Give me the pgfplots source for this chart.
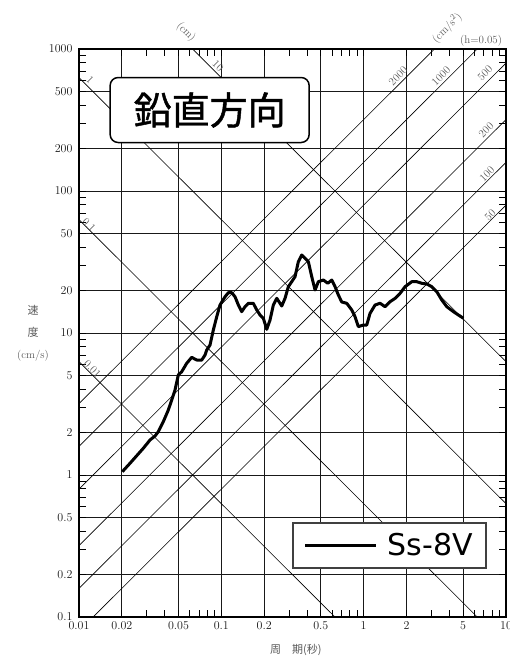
\documentclass[border=0pt]{standalone}
\usepackage{fontspec}
\usepackage{pgfplots}
\pgfplotsset{compat=1.18}
\newfontfamily\cjk{Noto Sans CJK JP}
\newfontfamily\cjkb{Noto Sans CJK JP}[FakeBold=1.2]
\newfontfamily\legfont{DejaVu Sans}
\definecolor{annot}{gray}{0.35}
\begin{document}
\begin{tikzpicture}
\begin{loglogaxis}[
  scale only axis, width=427pt, height=568pt,
  xmin=0.01, xmax=10, ymin=0.1, ymax=1000,
  xtick={0.01,0.02,0.05,0.1,0.2,0.5,1,2,5,10},
  xticklabels={0.01,0.02,0.05,0.1,0.2,0.5,1,2,5,10},
  ytick={0.1,0.2,0.5,1,2,5,10,20,50,100,200,500,1000},
  yticklabels={0.1,0.2,0.5,1,2,5,10,20,50,100,200,500,1000},
  minor xtick={0.03,0.04,0.06,0.07,0.08,0.09,0.3,0.4,0.6,0.7,0.8,0.9,3,4,6,7,8,9},
  minor ytick={0.3,0.4,0.6,0.7,0.8,0.9,3,4,6,7,8,9,30,40,60,70,80,90,300,400,600,700,800,900},
  tick align=inside, major tick length=7pt, minor tick length=7pt,
  tick style={black, line width=0.9pt},
  grid=major, major grid style={black!90, line width=0.9pt},
  axis line style={line width=1.4pt},
  clip mode=individual,
  tick label style={font=\fontsize{12}{14}\selectfont, text=black!90},
  yticklabel style={xshift=-3pt},
  xticklabel style={yshift=-1pt},
  ylabel={{\cjk 速}\\{\cjk 度}\\(cm/s)},
  ylabel style={at={(axis description cs:-0.1077,0.5)}, anchor=center, rotate=-90, align=center, font=\fontsize{11}{22}\selectfont, text=annot},
  xlabel={{\cjk 周　期(秒)}},
  xlabel style={at={(axis description cs:0.508,0)}, anchor=center, yshift=-33pt, font=\fontsize{11}{13}\selectfont, text=annot},
  legend style={at={(0.9548,0.084)}, anchor=south east, draw=black!75, line width=1.8pt, fill=white,
    inner xsep=0pt, inner ysep=11pt, font=\legfont\fontsize{30}{30}\selectfont, nodes={inner sep=0pt}},
  legend image code/.code={\path[draw=none, fill=none] (0pt,-2pt) rectangle (95pt,2pt);
    \draw[line width=2.6pt, black] (12.6pt,0pt) -- (83.3pt,0pt);},
]
% displacement lines (cm)
\addplot[black, line width=0.6pt, forget plot] coordinates {(0.01,6283.2)(10,6.2832)};
\addplot[black, line width=0.6pt, forget plot] coordinates {(0.01,628.32)(10,0.62832)};
\addplot[black, line width=0.6pt, forget plot] coordinates {(0.01,62.832)(10,0.062832)};
\addplot[black, line width=0.6pt, forget plot] coordinates {(0.01,6.2832)(10,0.0062832)};
% acceleration lines (cm/s^2)
\addplot[black, line width=0.6pt, forget plot] coordinates {(0.01,3.1831)(10,3183.1)};
\addplot[black, line width=0.6pt, forget plot] coordinates {(0.01,1.5915)(10,1591.5)};
\addplot[black, line width=0.6pt, forget plot] coordinates {(0.01,0.79577)(10,795.77)};
\addplot[black, line width=0.6pt, forget plot] coordinates {(0.01,0.31831)(10,318.31)};
\addplot[black, line width=0.6pt, forget plot] coordinates {(0.01,0.15915)(10,159.15)};
\addplot[black, line width=0.6pt, forget plot] coordinates {(0.01,0.079577)(10,79.577)};

\addplot[black, line width=3pt, line join=round] coordinates {
(0.02015,1.055)(0.02282,1.209)(0.02830,1.542)(0.03155,1.764)(0.0342,1.882)
(0.03608,2.018)(0.03912,2.374)(0.04242,2.87)(0.04481,3.375)(0.04727,3.97)
(0.04986,5.06)(0.05268,5.34)(0.05713,6.12)(0.06194,6.74)(0.06716,6.45)
(0.07284,6.45)(0.07683,7.0)(0.07896,7.59)(0.08329,8.23)(0.08786,10.5)
(0.09283,13.02)(0.0979,15.75)(0.1062,18.01)(0.112,19.22)(0.1183,19.22)
(0.1248,18.0)(0.1317,15.75)(0.1391,14.13)(0.1467,15.32)(0.1548,16.19)
(0.1678,16.19)(0.1773,14.52)(0.1871,13.39)(0.1973,12.69)(0.2085,10.62)
(0.2199,12.35)(0.232,15.75)(0.2452,17.55)(0.2658,15.49)(0.2803,17.55)
(0.2957,21.19)(0.3123,22.97)(0.3295,24.92)(0.3476,31.77)(0.3673,35.43)
(0.3874,33.57)(0.4087,31.77)(0.4318,24.92)(0.4555,20.09)(0.4804,22.97)
(0.521,23.61)(0.5595,22.39)(0.5969,23.61)(0.6295,21.19)(0.664,18.52)
(0.7017,16.53)(0.7605,16.19)(0.8249,14.52)(0.87,13.02)(0.9179,11.08)
(0.9952,11.38)(1.051,11.38)(1.109,13.76)(1.203,15.75)(1.304,16.19)
(1.414,15.32)(1.533,16.61)(1.663,17.55)(1.803,19.04)(1.954,21.19)
(2.178,22.97)(2.362,22.97)(2.561,22.39)(2.776,22.14)(3.01,21.19)
(3.264,19.54)(3.539,17.08)(3.837,15.32)(4.271,14.13)(4.63,13.39)(5.02,12.7)
};
\addlegendentry{Ss-8V\hspace*{13pt}}

% line labels
\begin{scope}[every node/.style={font=\fontsize{11}{13}\selectfont, text=annot, inner sep=0pt}]
\node[rotate=-45] at (axis cs:0.0565,1317) {(cm)};
\node[rotate=-45] at (axis cs:0.0948,759) {10};
\node[rotate=-45] at (axis cs:0.01195,605) {1};
\node[rotate=-45] at (axis cs:0.01176,57.6) {0.1};
\node[rotate=-45] at (axis cs:0.01244,5.58) {0.01};
\node[rotate=45] at (axis cs:3.855,1406) {(cm/s$^2$)};
\node at (axis cs:6.68,1138) {(h=0.05)};
\node[rotate=45] at (axis cs:1.745,645.5) {2000};
\node[rotate=45] at (axis cs:3.499,645.5) {1000};
\node[rotate=45] at (axis cs:7.13,677.6) {500};
\node[rotate=45] at (axis cs:7.25,268.9) {200};
\node[rotate=45] at (axis cs:7.36,131.7) {100};
\node[rotate=45] at (axis cs:7.73,67.7) {50};
\end{scope}

\node[draw, line width=1.5pt, rounded corners=8pt, fill=white, minimum width=199pt, minimum height=65pt,
  inner sep=0pt, font=\cjkb\fontsize{38}{38}\selectfont] at (rel axis cs:0.306,0.8926) {鉛直方向};
\end{loglogaxis}
\pgfresetboundingbox
\path (-79pt,-42pt) rectangle (430pt,617pt);
\end{tikzpicture}
\end{document}
